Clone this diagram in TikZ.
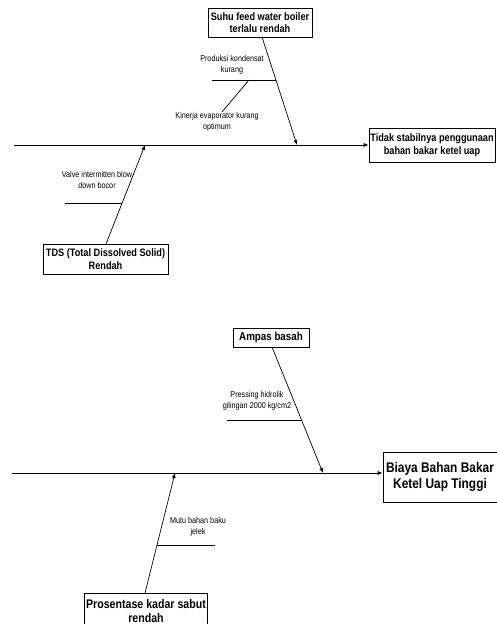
\documentclass[tikz,border=0pt]{standalone}
\usepackage{fontspec}
\setmainfont{Liberation Sans}[FakeStretch=0.85]
\usetikzlibrary{arrows.meta}
\begin{document}
\begin{tikzpicture}[x=1pt,y=-1pt,
  box/.style={draw,line width=0.7pt,fill=white,align=center,inner sep=1pt,font=\fontsize{10.8}{12.5}\selectfont\bfseries},
  bigbox/.style={draw,line width=0.7pt,fill=white,align=center,inner sep=1pt,font=\fontsize{14}{16.5}\selectfont\bfseries},
  lbl/.style={align=center,inner sep=0pt,font=\fontsize{8.5}{10.5}\selectfont},
  ln/.style={line width=0.7pt},
  arr/.style={line width=0.7pt,-{Latex[length=5pt,width=4pt]}}]
\useasboundingbox (0,0) rectangle (497,624);
% ---------- top diagram ----------
\node[box,minimum width=104pt,minimum height=29pt] (suhu) at (260,22.5) {Suhu feed water boiler\\terlalu rendah};
\node[box,minimum width=126pt,minimum height=34pt] (tidak) at (432,145) {Tidak stabilnya penggunaan\\bahan bakar ketel uap};
\node[box,minimum width=125pt,minimum height=30pt] (tds) at (105.5,259) {TDS (Total Dissolved Solid)\\Rendah};
\coordinate (spA) at (14,145);
\draw[arr] (spA) -- (tidak.west);
\coordinate (s1a) at (262,37);
\coordinate (s1b) at (297,145);
\draw[arr] (s1a) -- (s1b);
\coordinate (p1a) at (212,80);
\coordinate (p1b) at (276,80);
\draw[ln] (p1a) -- (p1b);
\node[lbl] (p1l) at (232,65) {Produksi kondensat\\kurang};
\coordinate (k1a) at (249,80);
\coordinate (k1b) at (222,112);
\draw[ln] (k1a) -- (k1b);
\node[lbl] (k1l) at (217,122) {Kinerja evaporator kurang\\optimum};
\coordinate (t1a) at (106,244);
\coordinate (t1b) at (145,145);
\draw[arr] (t1a) -- (t1b);
\coordinate (v1a) at (65,203);
\coordinate (v1b) at (122,203);
\draw[ln] (v1a) -- (v1b);
\node[lbl] (v1l) at (97,180) {Valve intermitten blow\\down bocor};
% ---------- bottom diagram ----------
\node[box,minimum width=76pt,minimum height=19pt,font=\fontsize{11.5}{13}\selectfont\bfseries] (ampas) at (271,337.5) {Ampas basah};
\node[bigbox,minimum width=114pt,minimum height=50pt] (biaya) at (440,477) {Biaya Bahan Bakar\\Ketel Uap Tinggi};
\node[box,minimum width=123pt,minimum height=36pt,font=\fontsize{12.5}{14.5}\selectfont\bfseries] (pros) at (146,611) {Prosentase kadar sabut\\rendah};
\coordinate (spB) at (12,473);
\draw[arr] (spB) -- (spB -| biaya.west);
\coordinate (a1a) at (272,347);
\coordinate (a1b) at (323,473);
\draw[arr] (a1a) -- (a1b);
\coordinate (h1a) at (227,420);
\coordinate (h1b) at (301.5,420);
\draw[ln] (h1a) -- (h1b);
\node[lbl] (h1l) at (257,401) {Pressing hidrolik\\gilingan 2000 kg/cm2};
\coordinate (r1a) at (145,593);
\coordinate (r1b) at (175,473);
\draw[arr] (r1a) -- (r1b);
\coordinate (m1a) at (157,545);
\coordinate (m1b) at (215,545);
\draw[ln] (m1a) -- (m1b);
\node[lbl] (m1l) at (198,527) {Mutu bahan baku\\jelek};
\end{tikzpicture}
\end{document}
